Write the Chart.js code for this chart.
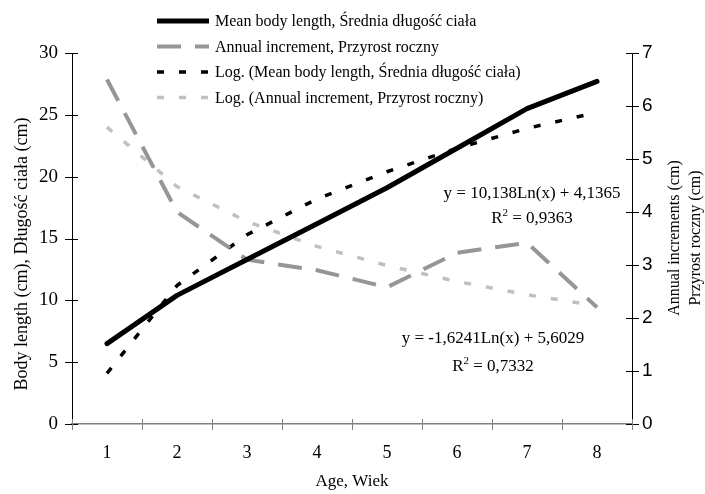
<!DOCTYPE html>
<html>
<head>
<meta charset="utf-8">
<script src="https://cdn.jsdelivr.net/npm/chart.js@4.4.1/dist/chart.umd.min.js"></script>
<style>
  html, body { margin: 0; padding: 0; background: #fff; }
  #wrap { width: 705px; height: 494px; position: relative; }
</style>
</head>
<body>
<div id="wrap"><canvas id="chart"></canvas></div>
<script>
const ages = ["1", "2", "3", "4", "5", "6", "7", "8"];
const meanLength = [6.5, 10.4, 13.3, 16.2, 19.1, 22.3, 25.5, 27.7];
const annualIncrement = [6.5, 4.0, 3.1, 2.9, 2.58, 3.23, 3.42, 2.2];
const meanLengthTrend = [4.1, 11.2, 15.3, 18.2, 20.4, 22.3, 23.9, 25.2];
const incrementTrend = [5.6, 4.48, 3.82, 3.35, 2.99, 2.69, 2.44, 2.23];

const leftAxis = { min: 0, max: 30, step: 5 };
const rightAxis = { min: 0, max: 7, step: 1 };

const serif = "'Liberation Serif', 'Times New Roman', serif";
const sans = "'Liberation Sans', Arial, sans-serif";

const seriesNames = [
  "Mean body length, Średnia długość ciała",
  "Annual increment, Przyrost roczny",
  "Log. (Mean body length, Średnia długość ciała)",
  "Log. (Annual increment, Przyrost roczny)",
];

// cross tick marks, legend, titles and trend equations
const extras = {
  id: "extras",
  afterDraw(chart) {
    const { ctx, chartArea: a } = chart;
    const x = chart.scales.x, y = chart.scales.y, y1 = chart.scales.y1;
    ctx.save();

    ctx.lineWidth = 1;
    ctx.strokeStyle = "#000";
    for (let v = leftAxis.min; v <= leftAxis.max; v += leftAxis.step) {
      const py = Math.round(y.getPixelForValue(v)) + 0.5;
      ctx.beginPath(); ctx.moveTo(a.left - 7, py); ctx.lineTo(a.left + 6, py); ctx.stroke();
    }
    for (let v = rightAxis.min; v <= rightAxis.max; v += rightAxis.step) {
      const py = Math.round(y1.getPixelForValue(v)) + 0.5;
      ctx.beginPath(); ctx.moveTo(a.right - 6, py); ctx.lineTo(a.right + 7, py); ctx.stroke();
    }
    ctx.strokeStyle = "#808080";
    for (let i = 0; i <= ages.length; i++) {
      let px;
      if (i === 0) px = a.left;
      else if (i === ages.length) px = a.right;
      else px = (x.getPixelForValue(i - 1) + x.getPixelForValue(i)) / 2;
      px = Math.round(px) + 0.5;
      ctx.beginPath(); ctx.moveTo(px, a.bottom - 5); ctx.lineTo(px, a.bottom + 6); ctx.stroke();
    }

    // legend
    const ds = chart.data.datasets;
    const baselines = [26, 51.5, 77, 102.5];
    ctx.font = "16px " + serif;
    ctx.fillStyle = "#000";
    ctx.textBaseline = "alphabetic";
    ctx.textAlign = "left";
    ds.forEach((d, i) => {
      const ly = baselines[i] - 5;
      ctx.save();
      ctx.strokeStyle = d.borderColor;
      ctx.lineWidth = d.borderWidth;
      ctx.setLineDash(d.borderDash || []);
      ctx.lineCap = "butt";
      ctx.beginPath(); ctx.moveTo(157, ly); ctx.lineTo(209, ly); ctx.stroke();
      ctx.restore();
      ctx.fillText(seriesNames[i], 215, baselines[i]);
    });

    // axis titles
    ctx.textAlign = "center";
    ctx.textBaseline = "middle";
    ctx.font = "18px " + serif;
    ctx.save();
    ctx.translate(22, 254);
    ctx.rotate(-Math.PI / 2);
    ctx.fillText("Body length (cm), Długość ciała (cm)", 0, 0);
    ctx.restore();

    ctx.font = "16px " + serif;
    ctx.save();
    ctx.translate(675, 238);
    ctx.rotate(-Math.PI / 2);
    ctx.fillText("Annual increments (cm)", 0, 0);
    ctx.fillText("Przyrost roczny (cm)", 0, 21);
    ctx.restore();

    ctx.font = "17px " + serif;
    ctx.textBaseline = "alphabetic";
    ctx.fillText("Age, Wiek", (a.left + a.right) / 2, 486);

    // trend equations
    const eq = (text, r2, cx, by1, by2) => {
      ctx.font = "17px " + serif;
      ctx.textAlign = "center";
      ctx.fillText(text, cx, by1);
      const rest = " = " + r2;
      const wR = ctx.measureText("R").width;
      const wRest = ctx.measureText(rest).width;
      ctx.font = "11px " + serif;
      const w2 = ctx.measureText("2").width;
      const start = cx - (wR + w2 + wRest) / 2;
      ctx.textAlign = "left";
      ctx.fillText("2", start + wR, by2 - 7);
      ctx.font = "17px " + serif;
      ctx.fillText("R", start, by2);
      ctx.fillText(rest, start + wR + w2, by2);
    };
    eq("y = 10,138Ln(x) + 4,1365", "0,9363", 532, 198, 222.5);
    eq("y = -1,6241Ln(x) + 5,6029", "0,7332", 493, 343, 370.5);

    ctx.restore();
  },
};

new Chart(document.getElementById("chart"), {
  type: "line",
  data: {
    labels: ages,
    datasets: [
      {
        label: seriesNames[0],
        data: meanLength,
        yAxisID: "y",
        borderColor: "#000000",
        borderWidth: 5,
        borderCapStyle: "round",
        borderJoinStyle: "round",
      },
      {
        label: seriesNames[1],
        data: annualIncrement,
        yAxisID: "y1",
        borderColor: "#969696",
        borderWidth: 4,
        borderDash: [24, 14],
      },
      {
        label: seriesNames[2],
        data: meanLengthTrend,
        yAxisID: "y",
        borderColor: "#000000",
        borderWidth: 3.5,
        borderDash: [7, 15],
      },
      {
        label: seriesNames[3],
        data: incrementTrend,
        yAxisID: "y1",
        borderColor: "#c0c0c0",
        borderWidth: 3.5,
        borderDash: [7, 15],
      },
    ],
  },
  options: {
    responsive: true,
    maintainAspectRatio: false,
    animation: false,
    events: [],
    layout: { padding: { top: 53, left: 0, right: 0, bottom: 0 } },
    elements: { point: { radius: 0 }, line: { tension: 0, fill: false } },
    plugins: { legend: { display: false }, tooltip: { enabled: false } },
    scales: {
      x: {
        type: "category",
        offset: true,
        grid: { display: false, drawTicks: false },
        border: { color: "#808080", width: 1.5 },
        ticks: { color: "#000", font: { family: serif, size: 18 }, padding: 18, maxRotation: 0 },
        afterFit: (s) => { s.height = 70; },
      },
      y: {
        position: "left",
        min: leftAxis.min,
        max: leftAxis.max,
        grid: { display: false, drawTicks: false },
        border: { color: "#000", width: 1 },
        ticks: { stepSize: leftAxis.step, color: "#000", font: { family: serif, size: 19 }, padding: 14 },
        afterFit: (s) => { s.width = 72; },
      },
      y1: {
        position: "right",
        min: rightAxis.min,
        max: rightAxis.max,
        grid: { display: false, drawTicks: false },
        border: { color: "#000", width: 1 },
        ticks: { stepSize: rightAxis.step, color: "#000", font: { family: sans, size: 19 }, padding: 10 },
        afterFit: (s) => { s.width = 73; },
      },
    },
  },
  plugins: [extras],
});
</script>
</body>
</html>
